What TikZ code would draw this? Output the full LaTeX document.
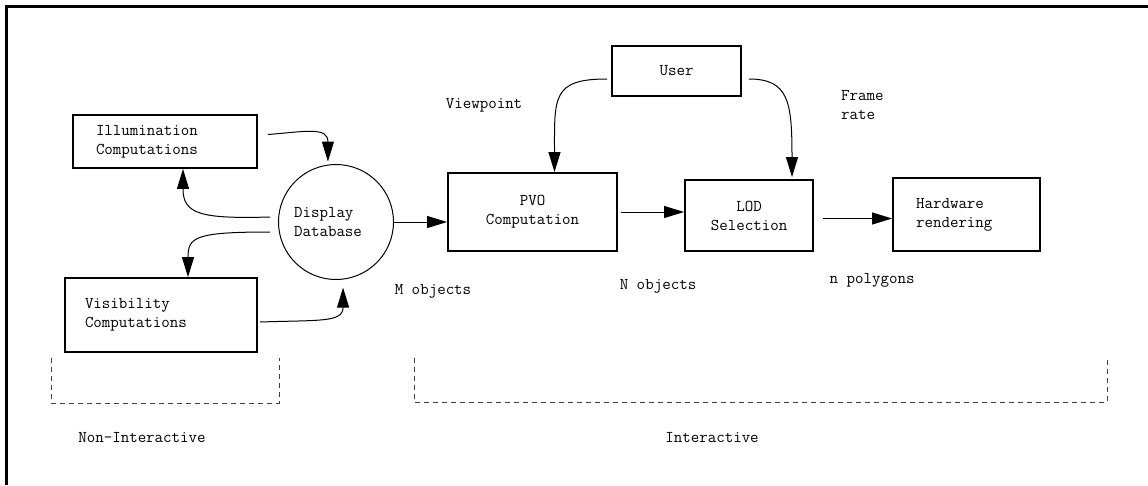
\documentclass[tikz,border=0pt]{standalone}
\usepackage{tikz}
\usetikzlibrary{arrows.meta, calc, positioning}
\newcommand{\figTip}{{Triangle[length=20pt, width=12pt]}}

\begin{document}
\begin{tikzpicture}[x=1pt, y=-1pt, font=\ttfamily\fontsize{16.5}{19}\selectfont,
	box/.style={draw, line width=1.8pt, inner sep=0pt},
	flow/.style={-\figTip, line width=1pt},
	lbl/.style={inner sep=0pt},
	bracket/.style={line width=1pt, dash pattern=on 5pt off 4pt, black!75}]
	\useasboundingbox (0,0) rectangle (1148,485);
	\draw[line width=3pt] (6,485) -- (6,6) -- (1148,6);
	
	\node[box, text width=138pt, inner xsep=23pt, minimum height=53pt, align=left] (illum) at (165,141.5) {Illumination\\Computations};
	\node[box, text width=152pt, inner xsep=20pt, minimum height=74pt, align=left] (vis) at (161,315) {Visibility\\Computations};
	\node[circle, draw, line width=1pt, minimum size=115pt, inner sep=0pt, align=left] (db) at (336,222) {Display\\Database\hspace*{16pt}};
	\node[box, minimum width=169pt, minimum height=78pt, align=center] (pvo) at (532.5,212) {PVO\\Computation};
	\node[box, minimum width=128pt, minimum height=71pt, align=center] (lod) at (749,215.5) {LOD\\Selection};
	\node[box, text width=101pt, inner xsep=23pt, minimum height=73pt, align=left] (hw) at (966.5,214.5) {Hardware\\rendering};
	\node[box, minimum width=129pt, minimum height=50pt] (user) at (676.5,71) {User};
	
	% off-line part
	\draw[flow]	([shift={(10,-7)}]illum.east) .. controls +(38,-3) and +(0,-35) .. ([shift={(0,-3)}]db.98);
	\draw[flow]	([shift={(-8,-5)}]db.west) .. controls +(-70,2) and +(0,45) .. ([shift={(18,0)}]illum.south);
	\draw[flow]	([shift={(-8,10)}]db.west) .. controls +(-75,0) and +(0,-40) .. ([shift={(27,0)}]vis.north);
	\draw[flow]	([shift={(2,7)}]vis.east) .. controls +(60,-2) and +(0,35) .. ([shift={(0,8)}]db.-83);
	
	% interactive part
	\draw[flow]	(db) -- (db -| pvo.west);
	\draw[flow]	([shift={(3,0)}]pvo.east) -- (pvo.east -| lod.west);
	\draw[flow]	([shift={(9,3)}]lod.east) -- ($(lod.east -| hw.west)+(0,3)$);
	\draw[flow]	([shift={(-4,8)}]user.west) .. controls +(-55,0) and +(0,-75) .. ([shift={(22,0)}]pvo.north);
	\draw[flow]	([shift={(7,8)}]user.east) .. controls +(40,0) and +(0,-75) .. ([shift={(43,-2)}]lod.north);
	
	\node[lbl] (viewpt) at (484,105) {Viewpoint};
	\node[lbl, anchor=west, align=left] (frate) at (841,105) {Frame\\rate};
	\node[lbl] (mobj) at (433,291) {M objects};
	\node[lbl] (nobj) at (658,286) {N objects};
	\node[lbl] (npoly) at (872,280) {n polygons};
	
	\draw[bracket]	(51,358) |- (279,403) -- (279,358);
	\draw[bracket]	(414,358) |- (1107,402) -- (1107,358);
	\node[lbl] (nonint) at (142,438) {Non-Interactive};
	\node[lbl] (inter) at (712,438) {Interactive};

\end{tikzpicture}
\end{document}
